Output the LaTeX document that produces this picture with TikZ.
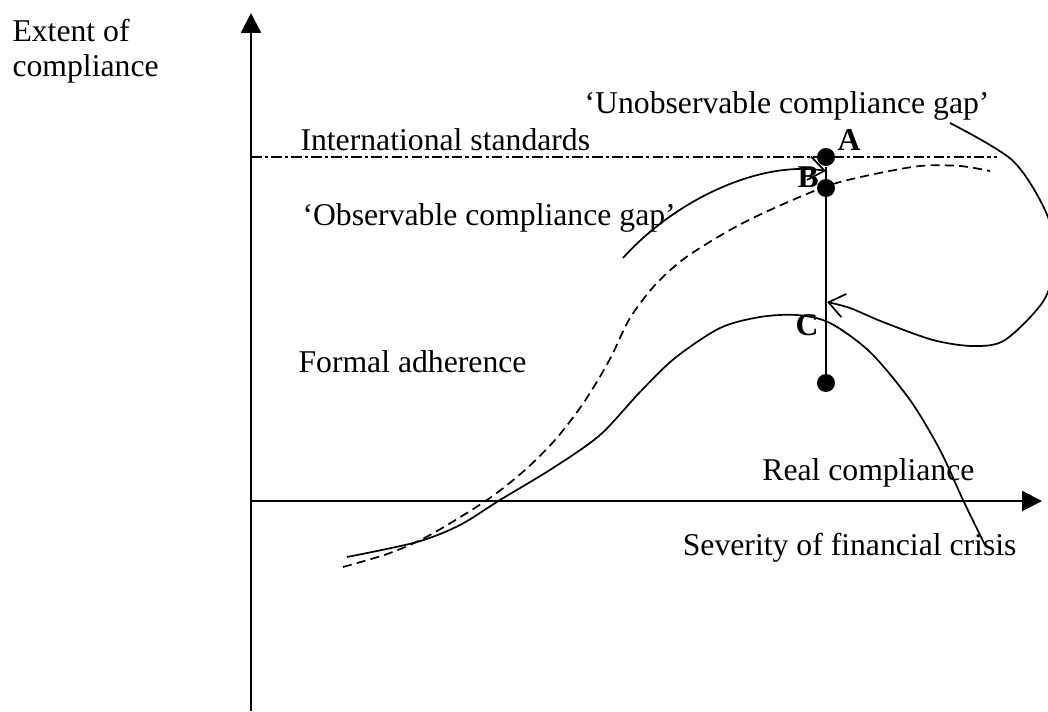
\documentclass[tikz,border=0pt]{standalone}
\usepackage{fontspec}
\setmainfont{Liberation Serif}
\usetikzlibrary{arrows.meta}

\begin{document}
\begin{tikzpicture}[x=0.0133cm,y=-0.0133cm,
  every path/.style={>={Straight Barb[length=6pt,width=9pt]}},
  every node/.style={inner sep=0pt,font=\fontsize{12}{13.25}\selectfont},
  blob/.style={circle,fill,minimum size=6.8pt},
  lbl/.style={font=\fontsize{12}{13.25}\selectfont\bfseries},
  axis/.style={line width=0.9pt,-{Triangle[length=7.5pt,width=7.5pt]}},
  curve/.style={line width=0.65pt}]
\useasboundingbox (0,0) rectangle (1048,711);
% axes
\coordinate (ybot) at (251,711);
\coordinate (ytop) at (251,13);
\coordinate (xbeg) at (251,501);
\coordinate (xend) at (1042,501);
\draw[axis] (ybot) -- (ytop);
\draw[axis] (xbeg) -- (xend);
% texts
\node[anchor=north west,align=left] (ylab) at (12,19) {Extent of\\compliance};
\node[anchor=base west] (intl)   at (300,150)  {International standards};
\node[anchor=base east] (unobs)  at (990,113)  {`Unobservable compliance gap'};
\node[anchor=base west] (obs)    at (302,225)  {`Observable compliance gap'};
\node[anchor=base west] (formal) at (298,372)  {Formal adherence};
\node[anchor=base east] (real)   at (975,480)  {Real compliance};
\node[anchor=base east] (sev)    at (1017,555) {Severity of financial crisis};
% standards line
\coordinate (stdL) at (251,157);
\coordinate (stdR) at (997,157);
\draw[curve,dash pattern=on 4pt off 1.2pt on 1.2pt off 1.2pt] (stdL) -- (stdR);
% formal adherence
\draw[curve,dash pattern=on 3.4pt off 2pt] plot[smooth] coordinates {
  (343,567) (390,553) (430,535) (487,500) (525,470) (555,440) (580,408)
  (598,380) (612,355) (630,318) (655,285) (685,258) (730,230) (770,210)
  (827,186) (870,175) (920,166) (960,166) (990,171)};
% real compliance
\draw[curve] plot[smooth] coordinates {
  (347,557) (417,542) (460,525) (500,500) (553,468) (600,435) (640,392)
  (675,358) (720,328) (760,317) (797,315) (830,323) (870,352) (910,400)
  (940,450) (963,500) (985,545)};
% points
\node[blob] (ptA) at (826,157) {};
\node[blob] (ptB) at (826,188) {};
\node[blob] (ptL) at (826,383) {};
\node[lbl,anchor=base west] (lA) at (837,150) {A};
\node[lbl,anchor=base west] (lB) at (797,187) {B};
\node[lbl,anchor=base west] (lC) at (795,335) {C};
\draw[curve] (ptA) -- (ptL);
% gap arrows
\coordinate (obsS) at (623,258);
\coordinate (obsT) at (826,171);
\draw[curve,->] (obsS) .. controls (675,200) and (760,160) .. (obsT);
\coordinate (unS) at (950,123);
\coordinate (unT) at (827,302);
\draw[curve,->] plot[smooth] coordinates {
  (unS) (1012,160) (1045,210) (1056,255) (1044,300) (1005,340) (973,346)
  (933,340) (883,322) (850,308) (unT)};
\end{tikzpicture}
\end{document}
